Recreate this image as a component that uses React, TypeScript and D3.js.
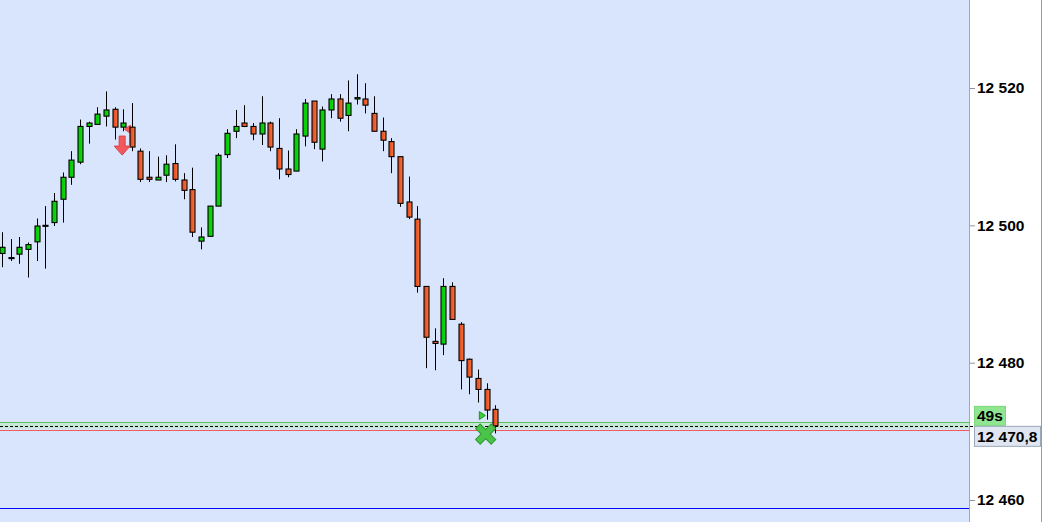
import React, { useRef, useEffect } from 'react';
import * as d3 from 'd3';

// OHLC per bar (oldest -> newest)
const opens = [12495.9, 12495.2, 12495.8, 12496.5, 12497.6, 12500.0, 12500.4, 12503.8, 12507.0, 12509.2, 12514.4, 12514.7, 12515.9, 12516.9, 12514.3, 12514.3, 12510.8, 12507.0, 12506.6, 12507.3, 12509.0, 12506.6, 12505.2, 12497.7, 12498.4, 12502.8, 12510.3, 12513.7, 12514.9, 12514.4, 12513.3, 12514.9, 12511.2, 12508.2, 12507.9, 12513.0, 12518.1, 12511.1, 12516.8, 12518.4, 12516.0, 12518.4, 12518.4, 12516.3, 12513.7, 12512.2, 12510.0, 12503.4, 12500.9, 12491.1, 12483.1, 12482.7, 12491.1, 12485.6, 12480.5, 12477.7, 12476.1, 12473.2];
const highs = [12499.0, 12498.0, 12498.3, 12497.5, 12501.0, 12502.8, 12504.7, 12507.7, 12510.8, 12515.4, 12515.1, 12517.2, 12519.5, 12517.2, 12516.9, 12517.8, 12511.2, 12510.8, 12510.0, 12510.2, 12511.8, 12507.6, 12508.4, 12499.7, 12502.8, 12510.5, 12514.0, 12516.8, 12517.5, 12514.9, 12518.8, 12515.1, 12515.6, 12510.9, 12514.0, 12518.4, 12518.1, 12517.3, 12519.1, 12519.1, 12521.1, 12522.0, 12520.7, 12518.8, 12515.7, 12512.7, 12510.0, 12507.1, 12502.8, 12491.1, 12485.0, 12492.3, 12491.7, 12485.9, 12480.6, 12479.0, 12477.0, 12473.8];
const lows = [12493.9, 12494.8, 12494.4, 12492.4, 12494.8, 12493.7, 12499.9, 12500.4, 12505.9, 12508.9, 12511.9, 12514.7, 12514.4, 12512.5, 12513.7, 12510.8, 12506.3, 12506.3, 12506.6, 12506.3, 12506.4, 12503.8, 12498.3, 12496.5, 12498.4, 12502.8, 12509.8, 12512.7, 12514.3, 12512.4, 12511.7, 12510.8, 12506.7, 12507.0, 12507.9, 12511.5, 12511.1, 12509.3, 12515.6, 12515.1, 12513.7, 12517.6, 12516.3, 12513.7, 12510.8, 12507.6, 12502.7, 12500.9, 12490.2, 12479.2, 12478.9, 12481.1, 12486.3, 12476.1, 12475.4, 12474.2, 12471.7, 12469.7];
const closes = [12496.8, 12495.3, 12496.8, 12497.2, 12499.9, 12500.0, 12503.5, 12507.0, 12509.5, 12514.4, 12514.9, 12516.2, 12516.8, 12514.3, 12514.9, 12511.4, 12506.7, 12506.7, 12507.0, 12508.9, 12506.7, 12505.1, 12499.0, 12498.3, 12502.8, 12510.2, 12513.4, 12514.4, 12514.4, 12513.3, 12514.9, 12511.4, 12508.2, 12507.4, 12513.3, 12517.8, 12512.1, 12516.8, 12518.4, 12515.6, 12517.8, 12518.6, 12517.5, 12513.7, 12512.4, 12510.0, 12503.2, 12501.2, 12491.1, 12483.7, 12482.8, 12491.1, 12486.3, 12480.3, 12477.9, 12476.1, 12473.1, 12470.8];

const priceTicks = [12460, 12480, 12500, 12520];
const totalSlots = 112; // visible bar slots incl. empty space on the right

// horizontal levels
const lastPrice = 12470.8;
const zoneTop = 12471.3;
const zoneBottom = 12470.4;
const redLevel = 12470.2;
const blueLevel = 12458.8;
const timerText = '49s';

// signals
const sellArrowBar = 14;
const sellArrowPrice = 12513.0;
const sellTickBar = 14.6;
const sellTickPrice = 12514.0;
const entryBar = 55.5;
const entryPrice = 12472.3;
const exitBar = 56;
const exitPrice = 12469.6;

const W = 1042;
const H = 522;
const plotRight = 969;

const CandleChart = () => {
  const svgRef = useRef(null);

  useEffect(() => {
    const svg = d3.select(svgRef.current);
    svg.selectAll('*').remove();

    const data = opens.map((o, i) => ({ i, o, h: highs[i], l: lows[i], c: closes[i] }));

    const x = d3.scaleLinear().domain([-0.23, totalSlots - 0.27]).range([0, plotRight]);
    const y = d3.scaleLinear().domain([12460, 12520]).range([500, 88]);

    const loc = d3.formatLocale({ decimal: ',', thousands: ' ', grouping: [3], currency: ['', ''] });
    const fmtTick = loc.format(',d');
    const fmtPrice = loc.format(',.1f');

    const defs = svg.append('defs');
    const red = defs.append('linearGradient').attr('id', 'gRed').attr('x1', 0).attr('x2', 1).attr('y1', 0).attr('y2', 0);
    red.append('stop').attr('offset', '0%').attr('stop-color', '#e0421a');
    red.append('stop').attr('offset', '100%').attr('stop-color', '#f7793f');
    const grn = defs.append('linearGradient').attr('id', 'gGreen').attr('x1', 0).attr('x2', 1).attr('y1', 0).attr('y2', 0);
    grn.append('stop').attr('offset', '0%').attr('stop-color', '#00c800');
    grn.append('stop').attr('offset', '100%').attr('stop-color', '#14d814');

    // backgrounds
    svg.append('rect').attr('x', 0).attr('y', 0).attr('width', plotRight).attr('height', H).attr('fill', '#d9e4fd');
    svg.append('rect').attr('x', plotRight).attr('y', 0).attr('width', W - plotRight).attr('height', H).attr('fill', '#ffffff');

    // blue level
    svg.append('line')
      .attr('x1', 0).attr('x2', plotRight)
      .attr('y1', Math.round(y(blueLevel)) + 0.5).attr('y2', Math.round(y(blueLevel)) + 0.5)
      .attr('stroke', '#0000ff').attr('stroke-width', 1);

    // green zone + red level
    svg.append('rect')
      .attr('x', 0).attr('width', plotRight)
      .attr('y', y(zoneTop)).attr('height', y(zoneBottom) - y(zoneTop))
      .attr('fill', '#c6e8d4');
    svg.append('line')
      .attr('x1', 0).attr('x2', plotRight)
      .attr('y1', Math.round(y(zoneTop)) + 0.5).attr('y2', Math.round(y(zoneTop)) + 0.5)
      .attr('stroke', '#5cc05c').attr('stroke-width', 1);
    svg.append('line')
      .attr('x1', 0).attr('x2', plotRight)
      .attr('y1', Math.round(y(redLevel)) + 0.5).attr('y2', Math.round(y(redLevel)) + 0.5)
      .attr('stroke', '#f05a5a').attr('stroke-width', 1);

    // last price dashed line
    svg.append('line')
      .attr('x1', 0).attr('x2', 975)
      .attr('y1', Math.round(y(lastPrice)) + 0.5).attr('y2', Math.round(y(lastPrice)) + 0.5)
      .attr('stroke', '#000').attr('stroke-width', 1).attr('stroke-dasharray', '3,2');

    // small sell tick (sits behind the candles)
    const sx = x(sellTickBar);
    const sy = y(sellTickPrice);
    svg.append('path')
      .attr('d', `M${sx - 4},${sy} L${sx + 2},${sy - 4} L${sx + 2},${sy + 4} Z`)
      .attr('fill', '#f2595c')
      .attr('stroke', '#e04a4e')
      .attr('stroke-width', 1);

    // candles
    const g = svg.append('g');
    g.selectAll('line.wick')
      .data(data)
      .join('line')
      .attr('class', 'wick')
      .attr('x1', d => Math.round(x(d.i)) + 0.5)
      .attr('x2', d => Math.round(x(d.i)) + 0.5)
      .attr('y1', d => y(d.h))
      .attr('y2', d => y(d.l))
      .attr('stroke', '#000')
      .attr('stroke-width', 1);

    g.selectAll('rect.body')
      .data(data)
      .join('rect')
      .attr('class', 'body')
      .attr('x', d => Math.round(x(d.i)) - 2)
      .attr('width', 5)
      .attr('y', d => y(Math.max(d.o, d.c)))
      .attr('height', d => Math.max(1, Math.abs(y(d.o) - y(d.c))))
      .attr('fill', d => (d.c >= d.o ? 'url(#gGreen)' : 'url(#gRed)'))
      .attr('stroke', '#000')
      .attr('stroke-width', 1.1);

    // sell arrow
    const ax = x(sellArrowBar) - 1;
    const ay = y(sellArrowPrice);
    svg.append('path')
      .attr('d', `M${ax - 3},${ay} L${ax + 3},${ay} L${ax + 3},${ay + 10} L${ax + 8},${ay + 10} L${ax},${ay + 19} L${ax - 8},${ay + 10} L${ax - 3},${ay + 10} Z`)
      .attr('fill', '#f2595c')
      .attr('stroke', '#d84448')
      .attr('stroke-width', 1);

    // entry triangle
    const tx = x(entryBar);
    const ty = y(entryPrice);
    svg.append('path')
      .attr('d', `M${tx - 3},${ty - 4} L${tx + 3},${ty} L${tx - 3},${ty + 4} Z`)
      .attr('fill', '#3ccc3c')
      .attr('stroke', '#1a9a1a')
      .attr('stroke-width', 1);

    // exit cross
    const cx = x(exitBar) - 1;
    const cy = y(exitPrice);
    const cross = `M${cx - 5.5},${cy - 5.5} L${cx + 5.5},${cy + 5.5} M${cx + 5.5},${cy - 5.5} L${cx - 5.5},${cy + 5.5}`;
    svg.append('path')
      .attr('d', cross)
      .attr('stroke', '#2a9a2a')
      .attr('stroke-width', 7.5)
      .attr('stroke-linecap', 'square');
    svg.append('path')
      .attr('d', cross)
      .attr('stroke', '#4cc44c')
      .attr('stroke-width', 5.5)
      .attr('stroke-linecap', 'square');

    // axis
    svg.append('line')
      .attr('x1', plotRight + 0.5).attr('x2', plotRight + 0.5)
      .attr('y1', 0).attr('y2', H)
      .attr('stroke', '#a0a8b4');
    svg.append('line')
      .attr('x1', W - 0.5).attr('x2', W - 0.5)
      .attr('y1', 0).attr('y2', H)
      .attr('stroke', '#c8906c');

    const axis = svg.append('g')
      .attr('transform', `translate(${plotRight + 1},0)`)
      .call(d3.axisRight(y).tickValues(priceTicks).tickSize(5).tickPadding(2).tickFormat(d => fmtTick(d)));
    axis.select('.domain').remove();
    axis.selectAll('.tick line').attr('stroke', '#8a96a4');
    axis.selectAll('.tick text')
      .attr('fill', '#000')
      .style('font-family', '"Liberation Sans", Arial, sans-serif')
      .style('font-size', '15.5px')
      .style('font-weight', 'bold');

    // timer label
    const ly = y(lastPrice);
    svg.append('rect')
      .attr('x', 974.5).attr('y', ly - 19.5).attr('width', 31).attr('height', 19)
      .attr('fill', '#90e690').attr('stroke', '#7ad87a');
    svg.append('text')
      .attr('x', 977).attr('y', ly - 4.5)
      .style('font-family', '"Liberation Sans", Arial, sans-serif')
      .style('font-size', '15.5px').style('font-weight', 'bold')
      .text(timerText);

    // last price label
    svg.append('rect')
      .attr('x', 974.5).attr('y', ly + 0.5).attr('width', 66).attr('height', 20)
      .attr('fill', '#dfe6f2').attr('stroke', '#9aa8b8');
    svg.append('text')
      .attr('x', 977).attr('y', ly + 16)
      .style('font-family', '"Liberation Sans", Arial, sans-serif')
      .style('font-size', '15.5px').style('font-weight', 'bold')
      .text(fmtPrice(lastPrice));
  }, []);

  return (
    <svg ref={svgRef} width={W} height={H} style={{ position: 'absolute', left: 0, top: 0, display: 'block' }} />
  );
};

export default function App() {
  return <CandleChart />;
}
